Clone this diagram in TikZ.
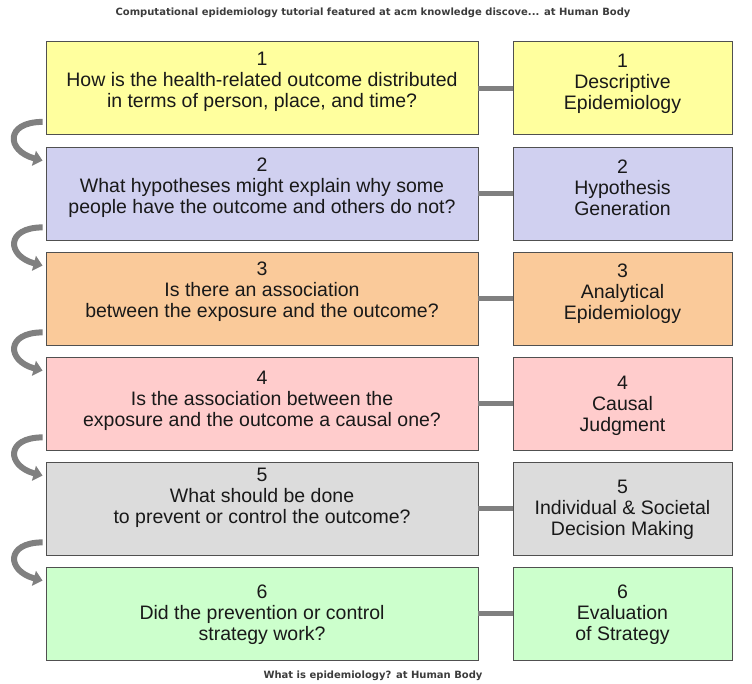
\documentclass[tikz,border=0pt]{standalone}
\usepackage{fontspec}
\setmainfont{Liberation Sans}
\newfontfamily\capfont{DejaVu Sans}
\usetikzlibrary{arrows.meta}
\definecolor{yel}{RGB}{255,255,158}
\definecolor{lav}{RGB}{208,208,240}
\definecolor{ora}{RGB}{250,202,154}
\definecolor{pin}{RGB}{255,204,204}
\definecolor{gry}{RGB}{220,220,220}
\definecolor{grn}{RGB}{204,255,204}
\definecolor{edge}{RGB}{80,80,80}
\definecolor{arr}{RGB}{128,128,128}
\definecolor{ink}{RGB}{25,25,25}
\definecolor{captxt}{RGB}{60,60,60}

\begin{document}
\begin{tikzpicture}[x=1pt,y=-1pt,
  every node/.style={text=ink,font=\fontsize{19.5}{21}\selectfont},
  box/.style={draw=edge,line width=.8pt,minimum height=93pt,inner sep=0pt},
  qbox/.style={box,minimum width=432pt},
  pbox/.style={box,minimum width=219pt},
  lbl/.style={align=center,inner sep=0pt},
  link/.style={draw=arr,line width=5pt},
  turn/.style={draw=arr,line width=6pt,-{Triangle[length=9pt,width=15pt]}},
  caption/.style={text=captxt,font=\capfont\bfseries\fontsize{10}{12}\selectfont}]
\useasboundingbox (0,0) rectangle (752,683);

\node[caption] (title) at (373,13) {Computational epidemiology tutorial featured at acm knowledge discove... at Human Body};
\node[caption] (source) at (373,676) {What is epidemiology? at Human Body};

\node[qbox,fill=yel,label={[lbl,yshift=6pt]center:{1\\How is the health-related outcome distributed\\in terms of person, place, and time?}}] (q1) at (262,88) {};
\node[qbox,fill=lav,label={[lbl,yshift=5.5pt]center:{2\\What hypotheses might explain why some\\people have the outcome and others do not?}}] (q2) at (262,193.5) {};
\node[qbox,fill=ora,label={[lbl,yshift=6.5pt]center:{3\\Is there an association\\between the exposure and the outcome?}}] (q3) at (262,298.5) {};
\node[qbox,fill=pin,label={[lbl,yshift=2.5pt]center:{4\\Is the association between the\\exposure and the outcome a causal one?}}] (q4) at (262,403.5) {};
\node[qbox,fill=gry,label={[lbl,yshift=10.5pt]center:{5\\What should be done\\to prevent or control the outcome?}}] (q5) at (262,508.5) {};
\node[qbox,fill=grn,label={[lbl,yshift=-1.5pt]center:{6\\Did the prevention or control\\strategy work?}}] (q6) at (262,613.5) {};

\node[pbox,fill=yel,label={[lbl,yshift=4.5pt]center:{1\\Descriptive\\Epidemiology}}] (p1) at (622.5,88) {};
\node[pbox,fill=lav,label={[lbl,yshift=6pt]center:{2\\Hypothesis\\Generation}}] (p2) at (622.5,193.5) {};
\node[pbox,fill=ora,label={[lbl,yshift=5pt]center:{3\\Analytical\\Epidemiology}}] (p3) at (622.5,298.5) {};
\node[pbox,fill=pin,label={[lbl,yshift=-2pt]center:{4\\Causal\\Judgment}}] (p4) at (622.5,403.5) {};
\node[pbox,fill=gry,label={[lbl,yshift=-1pt]center:{5\\Individual \& Societal\\Decision Making}}] (p5) at (622.5,508.5) {};
\node[pbox,fill=grn,label={[lbl,yshift=-1.5pt]center:{6\\Evaluation\\of Strategy}}] (p6) at (622.5,613.5) {};

\draw[link] (q1.east) -- (p1.west);
\draw[link] (q2.east) -- (p2.west);
\draw[link] (q3.east) -- (p3.west);
\draw[link] (q4.east) -- (p4.west);
\draw[link] (q5.east) -- (p5.west);
\draw[link] (q6.east) -- (p6.west);

\draw[turn] ([xshift=-3pt,yshift=13pt]q1.south west) to[out=180,in=165,looseness=2.5] ([xshift=-3pt,yshift=-14pt]q2.north west);
\draw[turn] ([xshift=-3pt,yshift=13pt]q2.south west) to[out=180,in=165,looseness=2.5] ([xshift=-3pt,yshift=-14pt]q3.north west);
\draw[turn] ([xshift=-3pt,yshift=13pt]q3.south west) to[out=180,in=165,looseness=2.5] ([xshift=-3pt,yshift=-14pt]q4.north west);
\draw[turn] ([xshift=-3pt,yshift=13pt]q4.south west) to[out=180,in=165,looseness=2.5] ([xshift=-3pt,yshift=-14pt]q5.north west);
\draw[turn] ([xshift=-3pt,yshift=13pt]q5.south west) to[out=180,in=165,looseness=2.5] ([xshift=-3pt,yshift=-14pt]q6.north west);
\end{tikzpicture}
\end{document}
